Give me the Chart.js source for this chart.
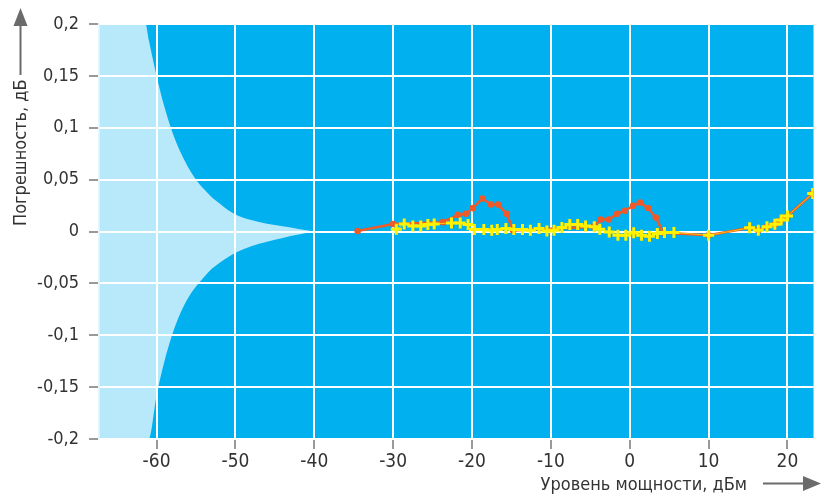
<!DOCTYPE html>
<html>
<head>
<meta charset="utf-8">
<script src="https://cdn.jsdelivr.net/npm/chart.js@4.4.1/dist/chart.umd.min.js"></script>
<style>
  html, body { margin: 0; padding: 0; background: #fff; }
  #wrap { width: 822px; height: 496px; }
</style>
</head>
<body>
<div id="wrap"><canvas id="chart" width="822" height="496"></canvas></div>
<script>
// axis ticks
const xTicks = [-60, -50, -40, -30, -20, -10, 0, 10, 20];
const xTickLabels = ['-60', '-50', '-40', '-30', '-20', '-10', '0', '10', '20'];
const yTicks = [-0.2, -0.15, -0.1, -0.05, 0, 0.05, 0.1, 0.15, 0.2];
const yTickLabels = ['-0,2', '-0,15', '-0,1', '-0,05', '0', '0,05', '0,1', '0,15', '0,2'];

// light zone (noise-limited error envelope)
const envX     = [-67.3, -61.4, -61, -60, -59, -58, -57, -56, -55, -54, -53, -52, -51, -50, -48, -46, -44, -42, -40];
const envUpper = [0.2, 0.2, 0.185, 0.15, 0.12, 0.096, 0.077, 0.062, 0.05, 0.041, 0.033, 0.027, 0.021, 0.0165, 0.011, 0.0075, 0.005, 0.0025, 0];
const envLower = [-0.2, -0.2, -0.2, -0.158, -0.125, -0.099, -0.079, -0.064, -0.053, -0.044, -0.036, -0.03, -0.025, -0.0205, -0.0142, -0.0098, -0.0062, -0.003, 0];

// orange series (dots)
const redX   = [-34.5, -30.0, -23.7, -21.8, -20.8, -19.9, -18.7, -17.6, -16.7, -15.6, -14.8, -4.6, -3.7, -2.65, -1.6, -0.6, 0.4, 1.3, 2.3, 3.3, 4.25, 10.0, 15.2, 16.3, 17.4, 18.4, 19.2, 20.0, 23.2];
const redErr = [0.0005, 0.0073, 0.009, 0.016, 0.017, 0.0225, 0.0318, 0.026, 0.026, 0.017, 0.001, 0.0045, 0.0116, 0.0116, 0.017, 0.02, 0.0247, 0.028, 0.0227, 0.0135, -0.0013, -0.0036, 0.0035, 0.0013, 0.0045, 0.007, 0.011, 0.015, 0.0366];

// yellow series (crosses)
const yelX   = [-29.6, -28.6, -27.5, -26.5, -25.6, -24.8, -22.6, -21.5, -20.5, -19.7, -18.5, -17.5, -16.8, -15.7, -14.7, -13.6, -12.6, -11.5, -10.5, -9.6, -8.6, -7.6, -6.6, -5.6, -4.5, -3.8, -2.6, -1.5, -0.5, 0.5, 1.5, 2.5, 3.5, 4.4, 5.6, 10.0, 15.2, 16.3, 17.4, 18.4, 19.2, 20.0, 23.2];
const yelErr = [0.0022, 0.0073, 0.0054, 0.0054, 0.0067, 0.0073, 0.0083, 0.0083, 0.0067, 0.0019, 0.0019, 0.0013, 0.0019, 0.0029, 0.0019, 0.0019, 0.0013, 0.0029, 0.0006, 0.0013, 0.0038, 0.0067, 0.0067, 0.0054, 0.0045, 0.0022, -0.0004, -0.0036, -0.0036, -0.0013, -0.0036, -0.0045, -0.002, -0.001, -0.001, -0.0036, 0.0035, 0.0013, 0.0045, 0.007, 0.011, 0.015, 0.0366];

const FONT = "'DejaVu Sans Condensed', 'DejaVu Sans', sans-serif";
const TEXT = '#333333';

const pts = (xs, ys) => xs.map((x, i) => ({ x, y: ys[i] }));

const plotBg = {
    id: 'plotBg',
    beforeDraw(chart) {
        const { ctx, chartArea: a } = chart;
        ctx.save();
        ctx.fillStyle = '#00b0ef';
        ctx.fillRect(a.left, a.top, a.right - a.left, a.bottom - a.top);
        ctx.restore();
    }
};

const axisTitles = {
    id: 'axisTitles',
    afterDraw(chart) {
        const ctx = chart.ctx;
        ctx.save();
        ctx.font = '18px ' + FONT;
        ctx.fillStyle = TEXT;
        ctx.strokeStyle = '#6b6b6b';
        ctx.lineWidth = 2;

        // x title + arrow
        ctx.textAlign = 'right';
        ctx.textBaseline = 'alphabetic';
        ctx.fillText('Уровень мощности, дБм', 747, 490);
        ctx.beginPath();
        ctx.moveTo(763, 483.5);
        ctx.lineTo(804, 483.5);
        ctx.stroke();
        ctx.fillStyle = '#6b6b6b';
        ctx.beginPath();
        ctx.moveTo(803, 476);
        ctx.lineTo(821, 483.5);
        ctx.lineTo(803, 491);
        ctx.closePath();
        ctx.fill();

        // y title + arrow
        ctx.fillStyle = TEXT;
        ctx.save();
        ctx.translate(26, 226);
        ctx.rotate(-Math.PI / 2);
        ctx.textAlign = 'left';
        ctx.fillText('Погрешность, дБ', 0, 0);
        ctx.restore();
        ctx.beginPath();
        ctx.moveTo(20.5, 75);
        ctx.lineTo(20.5, 24);
        ctx.stroke();
        ctx.fillStyle = '#6b6b6b';
        ctx.beginPath();
        ctx.moveTo(13.5, 26);
        ctx.lineTo(20.5, 8);
        ctx.lineTo(27.5, 26);
        ctx.closePath();
        ctx.fill();
        ctx.restore();
    }
};

new Chart(document.getElementById('chart'), {
    type: 'line',
    data: {
        datasets: [
            {
                data: pts(yelX, yelErr),
                order: 0,
                borderColor: 'rgba(255,242,0,0.7)',
                borderWidth: 1,
                pointStyle: 'cross',
                pointRadius: 5.5,
                pointBorderWidth: 3,
                pointBorderColor: '#fff200',
                fill: false
            },
            {
                data: pts(redX, redErr),
                order: 1,
                borderColor: '#f05a28',
                borderWidth: 2.5,
                pointRadius: 3.3,
                pointBorderWidth: 0,
                pointBackgroundColor: '#f05a28',
                fill: false
            },
            {
                data: pts(envX, envUpper),
                order: 3,
                borderWidth: 0,
                pointRadius: 0,
                cubicInterpolationMode: 'monotone',
                backgroundColor: 'rgba(255,255,255,0.72)',
                fill: 'origin'
            },
            {
                data: pts(envX, envLower),
                order: 3,
                borderWidth: 0,
                pointRadius: 0,
                cubicInterpolationMode: 'monotone',
                backgroundColor: 'rgba(255,255,255,0.72)',
                fill: 'origin'
            }
        ]
    },
    options: {
        responsive: false,
        animation: false,
        devicePixelRatio: 1,
        layout: { padding: { top: 24, right: 5, left: 0, bottom: 0 } },
        plugins: { legend: { display: false }, tooltip: { enabled: false } },
        scales: {
            x: {
                type: 'linear',
                min: -67.3,
                max: 23.3,
                afterBuildTicks: s => { s.ticks = xTicks.map(v => ({ value: v })); },
                afterFit: s => { s.height = 57; },
                ticks: {
                    callback: (v, i) => xTickLabels[i],
                    color: TEXT,
                    font: { family: FONT, size: 19 },
                    padding: 2,
                    maxRotation: 0
                },
                grid: { color: '#ffffff', lineWidth: 2, tickColor: '#777777', tickLength: 10, tickWidth: 1.5 },
                border: { display: false }
            },
            y: {
                min: -0.2,
                max: 0.2,
                afterBuildTicks: s => { s.ticks = yTicks.map(v => ({ value: v })); },
                afterFit: s => { s.width = 99; },
                ticks: {
                    callback: (v, i) => yTickLabels[i],
                    color: TEXT,
                    font: { family: FONT, size: 18 },
                    padding: 10
                },
                grid: { color: '#ffffff', lineWidth: 2, tickColor: '#777777', tickLength: 10, tickWidth: 1.5 },
                border: { display: true, color: '#e6f6fd', width: 1.5 }
            }
        }
    },
    plugins: [plotBg, axisTitles]
});
</script>
</body>
</html>
